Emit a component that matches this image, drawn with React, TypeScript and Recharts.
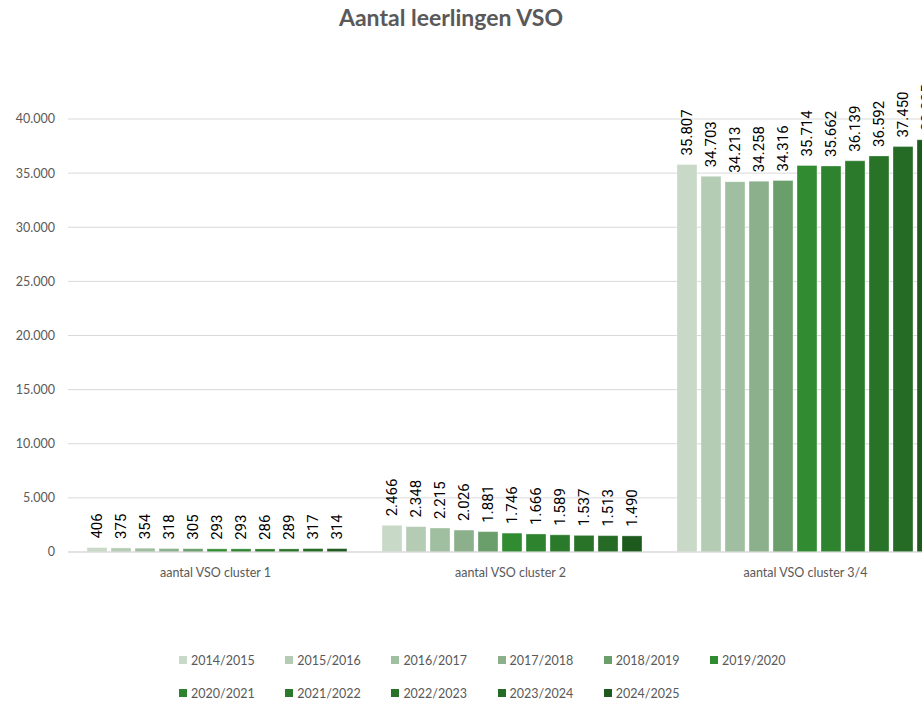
import { BarChart, Bar, XAxis, YAxis, CartesianGrid, LabelList } from "recharts";

const FONT = "Lato, 'Open Sans', sans-serif";
const LABEL_FONT = "'Liberation Sans Narrow', 'Roboto', sans-serif";

const categories = [
  "aantal VSO cluster 1",
  "aantal VSO cluster 2",
  "aantal VSO cluster 3/4",
];

const years = [
  "2014/2015",
  "2015/2016",
  "2016/2017",
  "2017/2018",
  "2018/2019",
  "2019/2020",
  "2020/2021",
  "2021/2022",
  "2022/2023",
  "2023/2024",
  "2024/2025",
];

const cluster1 = [406, 375, 354, 318, 305, 293, 293, 286, 289, 317, 314];
const cluster2 = [2466, 2348, 2215, 2026, 1881, 1746, 1666, 1589, 1537, 1513, 1490];
const cluster34 = [35807, 34703, 34213, 34258, 34316, 35714, 35662, 36139, 36592, 37450, 38085];

const yTicks = [0, 5000, 10000, 15000, 20000, 25000, 30000, 35000, 40000];

const COLORS = [
  "#c8d9c8",
  "#b4cbb4",
  "#a0bfa0",
  "#8bb08b",
  "#6a9e6a",
  "#318c31",
  "#2e832e",
  "#2b7a2b",
  "#297329",
  "#256a25",
  "#1e5a1e",
];

const series = [cluster1, cluster2, cluster34];
const data = categories.map((name, c) => {
  const row: Record<string, string | number> = { name };
  years.forEach((y, i) => {
    row[y] = series[c][i];
  });
  return row;
});

// dutch thousands separator
const fmt = (v: number) => String(v).replace(/\B(?=(\d{3})+(?!\d))/g, ".");

function RotatedLabel(props: any) {
  const { x, y, width, value } = props;
  const cx = x + width / 2;
  const ty = y - 9;
  return (
    <text
      x={cx}
      y={ty}
      transform={`rotate(-90 ${cx} ${ty})`}
      textAnchor="start"
      dominantBaseline="central"
      fontSize={15}
      fontFamily={LABEL_FONT}
      fill="#000"
    >
      {fmt(value)}
    </text>
  );
}

export default function App() {
  return (
    <div
      style={{
        position: "fixed",
        top: 0,
        left: 0,
        width: 922,
        height: 706,
        overflow: "hidden",
        background: "#fff",
        fontFamily: FONT,
      }}
    >
      <div
        style={{
          position: "absolute",
          top: 3,
          left: 0,
          width: 902,
          textAlign: "center",
          fontSize: 23,
          fontWeight: 700,
          color: "#595959",
        }}
      >
        Aantal leerlingen VSO
      </div>
      <div style={{ position: "absolute", top: 0, left: 0 }}>
        <BarChart
          width={953}
          height={582}
          data={data}
          margin={{ top: 119, right: 0, left: 0, bottom: 0 }}
          barCategoryGap={19}
          barGap={4}
        >
          <CartesianGrid vertical={false} stroke="#d9d9d9" />
          <XAxis
            dataKey="name"
            height={30}
            axisLine={{ stroke: "#d9d9d9" }}
            tickLine={false}
            tick={{ fontSize: 12.5, fill: "#595959", fontFamily: FONT }}
            tickMargin={10}
          />
          <YAxis
            width={68}
            domain={[0, 40000]}
            ticks={yTicks}
            axisLine={false}
            tickLine={false}
            tickMargin={7}
            tickFormatter={fmt}
            tick={{ fontSize: 12.5, fill: "#595959", fontFamily: FONT }}
          />
          {years.map((y, i) => (
            <Bar
              key={y}
              dataKey={y}
              fill={COLORS[i]}
              stroke="#ffffff"
              strokeOpacity={0.35}
              isAnimationActive={false}
            >
              <LabelList dataKey={y} content={RotatedLabel} />
            </Bar>
          ))}
        </BarChart>
      </div>
      <div
        style={{
          position: "absolute",
          top: 650,
          left: 179,
          width: 640,
          display: "flex",
          flexWrap: "wrap",
          rowGap: 13,
        }}
      >
        {years.map((y, i) => (
          <div
            key={y}
            style={{
              width: 106.2,
              height: 20,
              display: "flex",
              alignItems: "center",
              fontSize: 12.5,
              color: "#595959",
            }}
          >
            <span
              style={{
                display: "inline-block",
                width: 8,
                height: 8,
                background: COLORS[i],
                marginRight: 4,
              }}
            />
            {y}
          </div>
        ))}
      </div>
    </div>
  );
}
